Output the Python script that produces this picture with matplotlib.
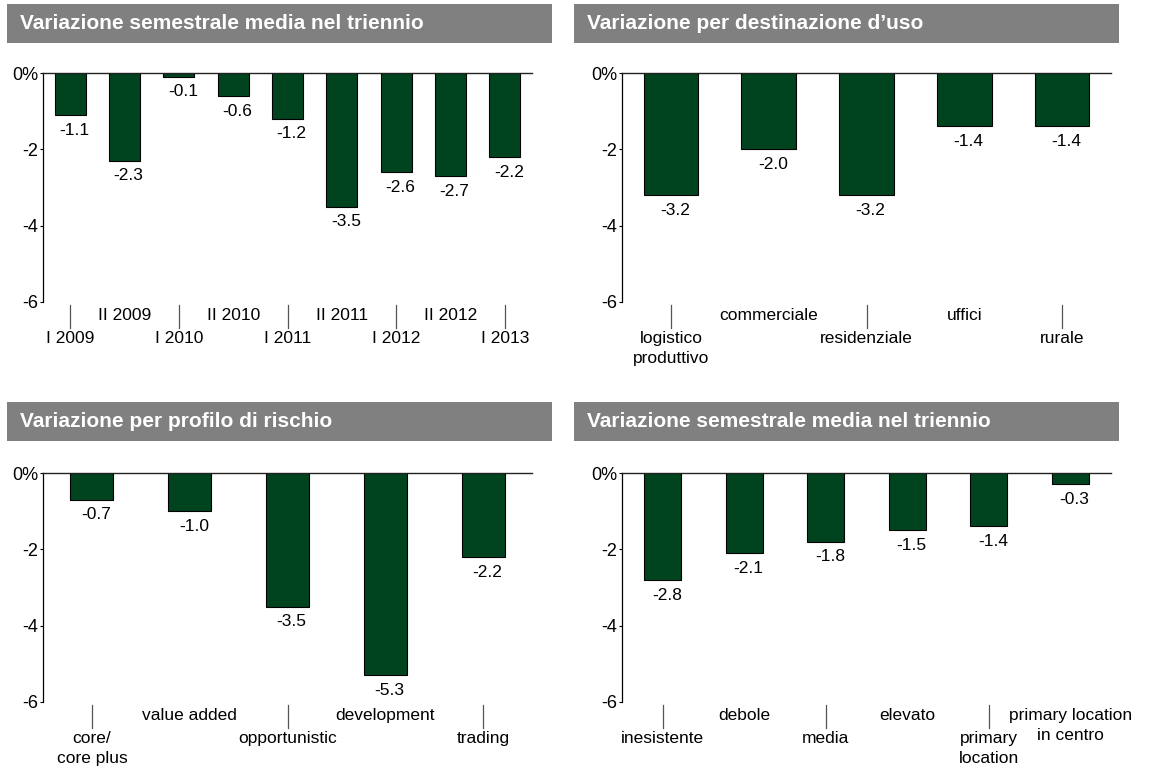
import matplotlib
matplotlib.use("Agg")
import matplotlib.pyplot as plt
from matplotlib.patches import Rectangle

plt.rcParams["font.family"] = ["Liberation Sans", "DejaVu Sans"]

# ---------------------------------------------------------------------------
# Data
# ---------------------------------------------------------------------------
titles = [
    "Variazione semestrale media nel triennio",
    "Variazione per destinazione d\u2019uso",
    "Variazione per profilo di rischio",
    "Variazione semestrale media nel triennio",
]

semesters = ["I 2009", "II 2009", "I 2010", "II 2010", "I 2011",
             "II 2011", "I 2012", "II 2012", "I 2013"]
semester_values = [-1.1, -2.3, -0.1, -0.6, -1.2, -3.5, -2.6, -2.7, -2.2]

uses = ["logistico\nproduttivo", "commerciale", "residenziale", "uffici", "rurale"]
use_values = [-3.2, -2.0, -3.2, -1.4, -1.4]

risk_profiles = ["core/\ncore plus", "value added", "opportunistic",
                 "development", "trading"]
risk_values = [-0.7, -1.0, -3.5, -5.3, -2.2]

locations = ["inesistente", "debole", "media", "elevato",
             "primary\nlocation", "primary location\nin centro"]
location_values = [-2.8, -2.1, -1.8, -1.5, -1.4, -0.3]

y_ticks = [0, -2, -4, -6]
y_ticklabels = ["0%", "-2", "-4", "-6"]

BAR_COLOR = "#00441f"
HEADER_COLOR = "#808080"
FS = 12.5

W, H = 1159, 769
fig = plt.figure(figsize=(W / 100, H / 100), dpi=100)


def px_rect(x0, y0, x1, y1):
    """Figure-fraction rectangle from pixel corners (origin top-left)."""
    return [x0 / W, 1 - y1 / H, (x1 - x0) / W, (y1 - y0) / H]


def header(x0, y0, x1, y1, text):
    fig.patches.append(Rectangle((x0 / W, 1 - y1 / H), (x1 - x0) / W, (y1 - y0) / H,
                                 transform=fig.transFigure, facecolor=HEADER_COLOR,
                                 edgecolor="none", zorder=0))
    fig.text((x0 + 13) / W, 1 - (y0 + y1) / 2 / H, text, color="white",
             fontsize=15, fontweight="bold", ha="left", va="center")


def panel(rect, cats, values, width):
    ax = fig.add_axes(rect)
    x = list(range(len(cats)))
    ax.bar(x, values, width=width, color=BAR_COLOR, edgecolor="black",
           linewidth=0.8, zorder=2)
    ax.set_xlim(-0.5, len(cats) - 0.5)
    ax.set_ylim(-6, 0)
    ax.set_yticks(y_ticks)
    ax.set_yticklabels(y_ticklabels, fontsize=13)
    ax.tick_params(axis="y", direction="out", length=2.5, width=0.8, pad=1)
    ax.set_xticks([])
    for side in ("right", "bottom"):
        ax.spines[side].set_visible(False)
    ax.spines["top"].set_color("#222222")
    ax.spines["top"].set_linewidth(1.0)
    ax.spines["left"].set_linewidth(0.9)

    # value labels under each bar
    for xi, v in zip(x, values):
        ax.annotate(f"{v:.1f}", xy=(xi, v), xytext=(3, -5.5),
                    textcoords="offset points", ha="center", va="top",
                    fontsize=FS)

    # category labels in two staggered rows, lower row with a leader line
    h_px = rect[3] * H
    for xi, c in zip(x, cats):
        if xi % 2 == 0:
            ax.plot([xi, xi], [-3 / h_px, -26 / h_px], color="#555555", lw=0.9,
                    transform=ax.get_xaxis_transform(), clip_on=False)
            ax.annotate(c, xy=(xi, 0), xycoords=("data", "axes fraction"),
                        xytext=(0, -21), textcoords="offset points",
                        ha="center", va="top", fontsize=FS, linespacing=1.4)
        else:
            ax.annotate(c, xy=(xi, 0), xycoords=("data", "axes fraction"),
                        xytext=(0, -4.5), textcoords="offset points",
                        ha="center", va="top", fontsize=FS, linespacing=1.4)
    return ax


header(7, 4, 552, 43, titles[0])
header(574, 4, 1119, 43, titles[1])
header(7, 402, 552, 441, titles[2])
header(574, 402, 1119, 441, titles[3])

panel(px_rect(43, 73, 532, 302), semesters, semester_values, 0.57)
panel(px_rect(622, 73, 1111, 302), uses, use_values, 0.56)
panel(px_rect(43, 473, 532, 702), risk_profiles, risk_values, 0.44)
panel(px_rect(622, 473, 1111, 702), locations, location_values, 0.45)

fig.savefig("out.png", dpi=100, facecolor="white")
